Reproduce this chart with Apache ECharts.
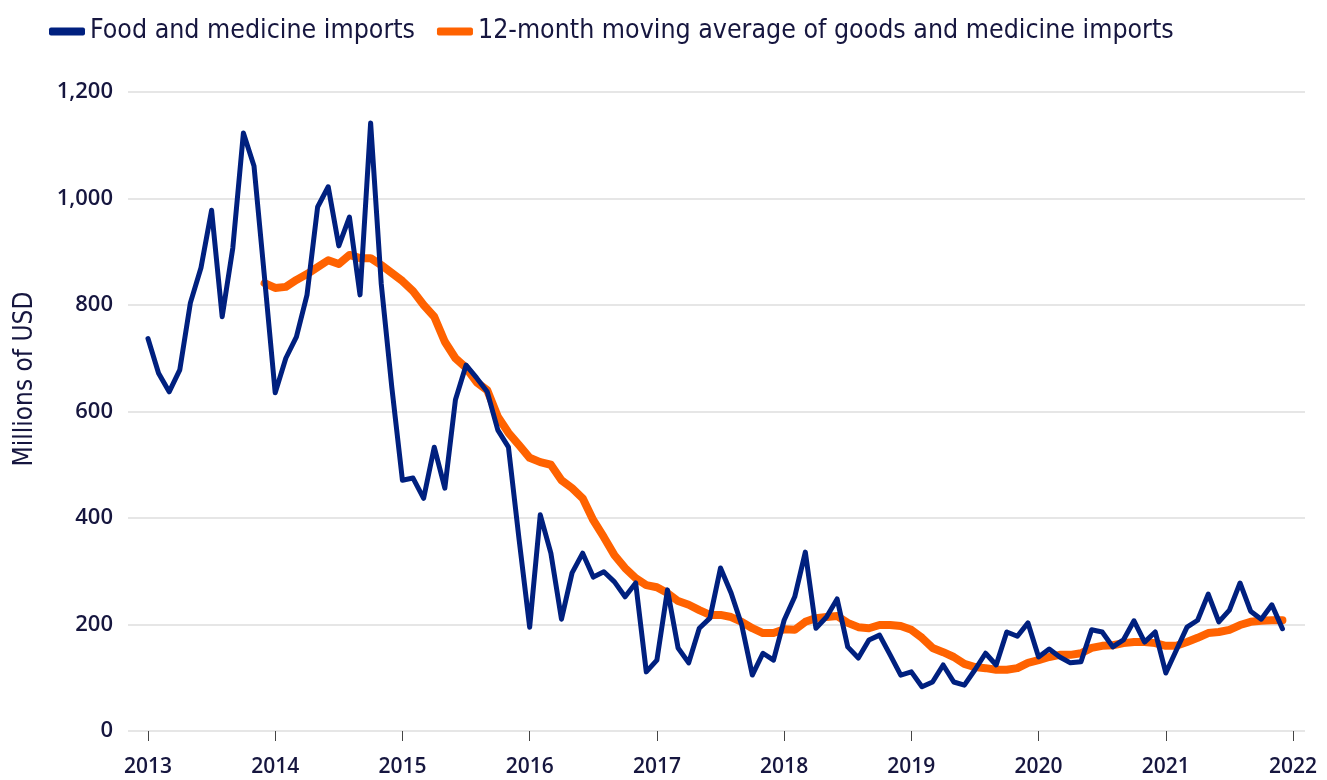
<!DOCTYPE html>
<html>
<head>
<meta charset="utf-8">
<script src="https://cdn.jsdelivr.net/npm/echarts@6/dist/echarts.min.js"></script>
<style>
html,body{margin:0;padding:0;background:#fff;}
#chart{width:1327px;height:780px;}
</style>
</head>
<body>
<div id="chart"></div>
<script>
// Monthly data, January 2013 to December 2021
var startYear = 2013;
var tickYears = [2013, 2014, 2015, 2016, 2017, 2018, 2019, 2020, 2021, 2022];
var yTicks = [0, 200, 400, 600, 800, 1000, 1200];

var foodImports = [
  737, 672, 637, 678, 804, 870, 978, 778, 907, 1123, 1061, 850,   // 2013
  635, 700, 740, 819, 984, 1022, 911, 965, 819, 1142, 840, 645,   // 2014
  471, 475, 437, 533, 456, 622, 687, 663, 637, 565, 533, 360,     // 2015
  195, 406, 334, 210, 297, 334, 289, 299, 280, 252, 278, 111,     // 2016
  133, 265, 156, 128, 193, 212, 306, 259, 199, 105, 146, 133,     // 2017
  208, 252, 336, 193, 214, 248, 158, 137, 171, 180, 143, 105,     // 2018
  111, 83, 92, 124, 92, 86, 115, 146, 124, 186, 178, 203,         // 2019
  139, 154, 139, 128, 130, 190, 186, 158, 171, 207, 167, 186,     // 2020
  109, 152, 195, 208, 257, 205, 227, 278, 225, 210, 237, 192      // 2021
];

var movingAvg = [
  null, null, null, null, null, null, null, null, null, null, null, 841, // 2013
  832, 834, 847, 858, 871, 884, 877, 894, 888, 888, 875, 860,   // 2014
  845, 826, 800, 778, 731, 700, 682, 655, 640, 590, 560, 537,   // 2015
  513, 505, 500, 471, 456, 437, 396, 364, 330, 306, 287, 274,   // 2016
  270, 259, 244, 237, 227, 218, 218, 214, 205, 193, 184, 184,   // 2017
  191, 190, 205, 212, 214, 216, 203, 195, 193, 199, 199, 197,   // 2018
  190, 175, 156, 148, 139, 126, 120, 118, 115, 115, 118, 128,   // 2019
  133, 139, 143, 143, 146, 156, 160, 161, 165, 167, 167, 165,   // 2020
  160, 160, 167, 175, 184, 186, 190, 199, 205, 207, 208, 208    // 2021
];

var seriesNames = ['Food and medicine imports', '12-month moving average of goods and medicine imports'];
var yAxisTitle = 'Millions of USD';

function toPoints(arr) {
  var out = [];
  for (var i = 0; i < arr.length; i++) {
    if (arr[i] !== null) out.push([startYear + i / 12, arr[i]]);
  }
  return out;
}

var condensed = "'Liberation Sans Narrow', 'DejaVu Sans Condensed', 'Roboto', sans-serif";
var tickFont = "'Open Sans', 'DejaVu Sans', sans-serif";
var textColor = '#16163f';
var chart = echarts.init(document.getElementById('chart'));
chart.setOption({
  animation: false,
  backgroundColor: '#ffffff',
  legend: {
    top: 13,
    left: 44,
    itemWidth: 36,
    itemHeight: 8,
    itemGap: 22,
    icon: 'roundRect',
    textStyle: { fontFamily: condensed, fontSize: 26.5, color: textColor },
    data: seriesNames
  },
  graphic: [{
    type: 'text',
    rotation: Math.PI / 2,
    x: 25, y: 379,
    style: {
      text: yAxisTitle,
      fontFamily: condensed,
      fontSize: 26,
      fill: textColor,
      textAlign: 'center',
      textVerticalAlign: 'middle'
    }
  }],
  grid: { left: 128, right: 22, top: 92, bottom: 49 },
  xAxis: {
    type: 'value',
    min: 2012.843,
    max: 2022.094,
    axisLine: { show: false },
    axisTick: { show: true, length: 10, customValues: tickYears, lineStyle: { color: '#444', width: 1 } },
    axisLabel: { customValues: tickYears, margin: 26, fontFamily: tickFont, fontWeight: 600, fontSize: 21, color: textColor, formatter: function (v) { return String(Math.round(v)); } },
    splitLine: { show: false }
  },
  yAxis: {
    type: 'value',
    min: 0,
    max: 1200,
    interval: 200,
    axisLine: { show: false },
    axisTick: { show: false },
    axisLabel: {
      margin: 15,
      fontFamily: tickFont,
      fontWeight: 600,
      fontSize: 22,
      color: textColor,
      formatter: function (v) { return v.toLocaleString('en-US'); }
    },
    splitLine: { lineStyle: { color: '#e6e6e6', width: 2 } }
  },
  series: [
    {
      name: seriesNames[0],
      type: 'line',
      data: toPoints(foodImports),
      showSymbol: false,
      z: 3,
      lineStyle: { color: '#00207f', width: 5, join: 'round', cap: 'round' },
      itemStyle: { color: '#00207f' }
    },
    {
      name: seriesNames[1],
      type: 'line',
      data: toPoints(movingAvg),
      showSymbol: false,
      z: 2,
      lineStyle: { color: '#ff6200', width: 8, join: 'round', cap: 'round' },
      itemStyle: { color: '#ff6200' }
    }
  ]
});
</script>
</body>
</html>
